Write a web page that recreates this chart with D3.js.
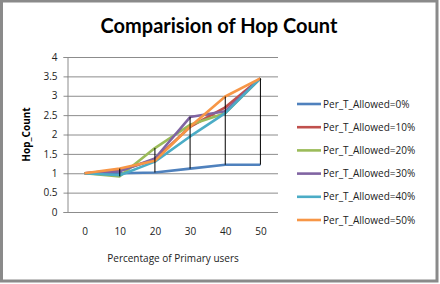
<!DOCTYPE html>
<html>
<head>
<meta charset="utf-8">
<script src="https://cdn.jsdelivr.net/npm/d3@7"></script>
<style>
  body { margin: 0; background: #fff; }
  svg { display: block; }
</style>
</head>
<body>
<svg class="main"></svg>
<script>
const categories = ["0", "10", "20", "30", "40", "50"];
const seriesNames = ["Per_T_Allowed=0%", "Per_T_Allowed=10%", "Per_T_Allowed=20%",
                     "Per_T_Allowed=30%", "Per_T_Allowed=40%", "Per_T_Allowed=50%"];
const allowed0 = [1, 1.0, 1.02, 1.12, 1.22, 1.22];
const allowed10 = [1, 1.08, 1.35, 2.2, 2.7, 3.45];
const allowed20 = [1, 0.92, 1.65, 2.25, 2.55, 3.45];
const allowed30 = [1, 1.05, 1.38, 2.45, 2.6, 3.45];
const allowed40 = [1, 0.95, 1.3, 1.95, 2.55, 3.45];
const allowed50 = [1, 1.12, 1.32, 2.2, 2.98, 3.45];
const yTicks = [0, 0.5, 1, 1.5, 2, 2.5, 3, 3.5, 4];
const colors = ["#4F81BD", "#C0504D", "#9BBB59", "#8064A2", "#4BACC6", "#F79646"];

const series = [allowed0, allowed10, allowed20, allowed30, allowed40, allowed50];

const width = 440;
const height = 284;
const svg = d3.select("svg.main")
    .attr("width", width)
    .attr("height", height);

// chart frame
svg.append("rect")
    .attr("x", 1.5).attr("y", 1)
    .attr("width", width - 4.5).attr("height", height - 4)
    .style("fill", "#fff")
    .style("stroke", "#8a8a8a")
    .style("stroke-width", 3);

const plot = { left: 67, right: 278, top: 57, bottom: 212 };

const x = d3.scalePoint()
    .domain(categories)
    .range([plot.left, plot.right])
    .padding(0.5);
const y = d3.scaleLinear()
    .domain([0, 4])
    .range([plot.bottom, plot.top]);

// gridlines
svg.append("g")
    .selectAll("line")
    .data(yTicks)
    .join("line")
    .attr("x1", plot.left).attr("x2", plot.right)
    .attr("y1", d => y(d) + 0.5).attr("y2", d => y(d) + 0.5)
    .style("stroke", "#8c8c8c")
    .style("stroke-width", 1);

// y axis
const yAxis = svg.append("g")
    .attr("transform", `translate(${plot.left + 0.5},0)`)
    .call(d3.axisLeft(y).tickValues(yTicks).tickSize(4).tickPadding(6).tickFormat(d3.format("")));
yAxis.select(".domain").style("stroke", "#8c8c8c");
yAxis.selectAll(".tick line").style("stroke", "#8c8c8c");
yAxis.selectAll("text")
    .style("font-family", "'Open Sans', sans-serif")
    .style("font-size", "10px")
    .style("fill", "#222");

// x axis labels
const xAxis = svg.append("g")
    .attr("transform", `translate(0,${plot.bottom})`)
    .call(d3.axisBottom(x).tickSize(0).tickPadding(16));
xAxis.select(".domain").remove();
xAxis.selectAll("text")
    .style("font-family", "'Open Sans', sans-serif")
    .style("font-size", "10px")
    .style("fill", "#222");

// series lines
const line = d3.line()
    .x((d, i) => x(categories[i]))
    .y(d => y(d));

svg.append("g")
    .selectAll("path")
    .data(series)
    .join("path")
    .attr("d", d => line(d))
    .style("fill", "none")
    .style("stroke", (d, i) => colors[i])
    .style("stroke-width", 2.6)
    .style("stroke-linejoin", "round");

// high-low lines
svg.append("g")
    .selectAll("line")
    .data(categories.slice(1))
    .join("line")
    .attr("x1", d => x(d)).attr("x2", d => x(d))
    .attr("y1", d => y(d3.max(series, s => s[categories.indexOf(d)])))
    .attr("y2", d => y(d3.min(series, s => s[categories.indexOf(d)])))
    .style("stroke", "#000")
    .style("stroke-width", 1);

// title
svg.append("text")
    .attr("x", 219).attr("y", 33)
    .attr("text-anchor", "middle")
    .style("font-family", "Lato, sans-serif")
    .style("font-weight", "bold")
    .style("font-size", "20px")
    .style("fill", "#000")
    .text("Comparision of Hop Count");

// axis titles
svg.append("text")
    .attr("transform", `translate(30,${(plot.top + plot.bottom) / 2}) rotate(-90)`)
    .attr("text-anchor", "middle")
    .style("font-family", "'Open Sans', sans-serif")
    .style("font-weight", "bold")
    .style("font-size", "10px")
    .style("fill", "#000")
    .text("Hop_Count");

svg.append("text")
    .attr("x", 173).attr("y", 262)
    .attr("text-anchor", "middle")
    .style("font-family", "'Open Sans', sans-serif")
    .style("font-size", "10px")
    .style("fill", "#222")
    .text("Percentage of Primary users");

// legend
const legend = svg.append("g")
    .selectAll("g")
    .data(seriesNames)
    .join("g")
    .attr("transform", (d, i) => `translate(297,${104 + i * 23.2})`);
legend.append("line")
    .attr("x1", 0).attr("x2", 24)
    .style("stroke", (d, i) => colors[i])
    .style("stroke-width", 2.6);
legend.append("text")
    .attr("x", 26).attr("dy", "0.35em")
    .style("font-family", "'Open Sans', sans-serif")
    .style("font-size", "10px")
    .style("fill", "#222")
    .text(d => d);
</script>
</body>
</html>
